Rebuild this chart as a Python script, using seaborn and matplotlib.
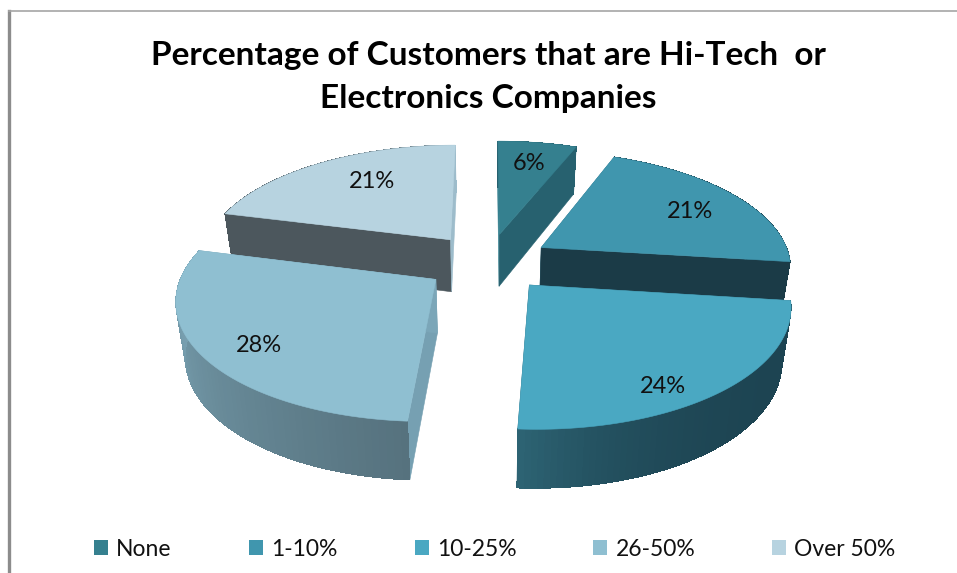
import numpy as np
import matplotlib
matplotlib.use("Agg")
import matplotlib.pyplot as plt
from matplotlib.colors import to_rgb
from matplotlib.patches import Patch
import seaborn as sns

# Survey shares
categories = ["None", "1-10%", "10-25%", "26-50%", "Over 50%"]
shares = [6, 21, 24, 28, 21]

# Surface colours per slice
top_colors = ["#35808f", "#4096ae", "#4aa8c2", "#8fbfd1", "#b7d3e0"]
cut_start_colors = ["#35808f", "#2f7085", "#2b6173", "#76a0b2", "#4c575d"]
cut_end_colors = ["#27616f", "#1b3b47", "#2b6173", "#7ba6b8", "#9dbccb"]
rim_start_colors = ["#27616f", "#1b3b47", "#1d4452", "#56727e", "#4c575d"]
rim_end_colors = ["#27616f", "#1b3b47", "#2d6373", "#7fa9ba", "#9dbccb"]
rim_shade_power = [1, 1, 4, 1, 12]

# Label anchors on the canvas
label_x = [529, 690, 663, 259, 372]
label_y = [163, 211, 386, 345, 181]

# Projection of the tilted, exploded pie (canvas pixels)
CX, CY = 488.0, 262.0
RADIUS = 250.0
EXPLODE = 63.0
TILT = 0.46
PERSPECTIVE = 0.0006
BASE_SHRINK = 0.97
DRAW_ORDER = [0, 4, 1, 3, 2]

W, H = 957, 573
sns.set_theme(style="white")
plt.rcParams["font.family"] = ["Lato", "DejaVu Sans"]

fig = plt.figure(figsize=(W / 100, H / 100), dpi=100, facecolor="white")
ax = fig.add_axes([9 / W, 0, 1 - 9 / W, 1 - 11 / H])
ax.set_xlim(9, W)
ax.set_ylim(H, 11)
ax.set_xticks([])
ax.set_yticks([])
sns.despine(ax=ax, top=False, right=True, bottom=True)
ax.spines["left"].set(color="#8c8c8c", linewidth=2.4)
ax.spines["top"].set(color="#a6a6a6", linewidth=1.2)


def plan_point(theta, r, mid):
    """Plan coordinates of a point on a slice pushed out along its bisector."""
    return (EXPLODE * np.sin(mid) + r * np.sin(theta),
            EXPLODE * np.cos(mid) + r * np.cos(theta))


def top_xy(px, py):
    s = 1.0 / (1.0 + PERSPECTIVE * py)
    return CX + s * px, CY - s * TILT * py


def base_xy(px, py):
    x, y = top_xy(px, py)
    return CX + (x - CX) * BASE_SHRINK, y + 53.0 - 0.02 * py


def prism_wall(px, py):
    tx, ty = top_xy(px, py)
    bx, by = base_xy(px, py)
    return np.r_[tx, bx[::-1]], np.r_[ty, by[::-1]]


def fill(xs, ys, color, z, smooth=True):
    if smooth:
        ax.fill(xs, ys, facecolor=color, edgecolor=color, linewidth=0.4, zorder=z)
    else:
        ax.fill(xs, ys, facecolor=color, edgecolor="none", antialiased=False, zorder=z)


edges = np.radians(np.r_[0, np.cumsum(shares)] * 3.6)

for rank, i in enumerate(DRAW_ORDER):
    a0, a1 = edges[i], edges[i + 1]
    mid = (a0 + a1) / 2
    z = 2 + rank

    # Straight cut walls first
    for ang, col in ((a0, cut_start_colors[i]), (a1, cut_end_colors[i])):
        rr = np.array([0.0, RADIUS])
        px, py = plan_point(ang, rr, mid)
        xs, ys = prism_wall(px, py)
        fill(xs, ys, col, z)

    # Curved rim, shaded strip by strip
    thetas = np.linspace(a0, a1, 70)
    c0, c1 = np.array(to_rgb(rim_start_colors[i])), np.array(to_rgb(rim_end_colors[i]))
    for k in range(len(thetas) - 1):
        px, py = plan_point(thetas[k:k + 2], RADIUS, mid)
        xs, ys = prism_wall(px, py)
        u = (k / (len(thetas) - 2)) ** rim_shade_power[i]
        fill(xs, ys, tuple(c0 + (c1 - c0) * u), z, smooth=False)

    # Top face last
    theta = np.linspace(a0, a1, 120)
    px, py = plan_point(theta, RADIUS, mid)
    apex_x, apex_y = plan_point(a0, 0.0, mid)
    xs, ys = top_xy(np.r_[apex_x, px], np.r_[apex_y, py])
    fill(xs, ys, top_colors[i], z)

for x, y, v in zip(label_x, label_y, shares):
    ax.text(x, y, f"{v}%", ha="center", va="center", fontsize=17,
            color="#111111", zorder=20)

ax.text(488, 77, "Percentage of Customers that are Hi-Tech  or\nElectronics Companies",
        ha="center", va="center", fontsize=24, fontweight="bold", color="black",
        linespacing=1.6)

handles = [Patch(facecolor=c, edgecolor="none") for c in top_colors]
ax.legend(handles, categories, ncol=5, frameon=False, loc="center",
          bbox_to_anchor=(486 / (W - 9), (H - 549) / (H - 11)),
          bbox_transform=ax.transAxes, fontsize=16.5, labelcolor="#111111",
          handlelength=0.61, handleheight=0.61, handletextpad=0.35,
          columnspacing=3.37, borderpad=0, borderaxespad=0)

fig.savefig("out.png", dpi=100)
